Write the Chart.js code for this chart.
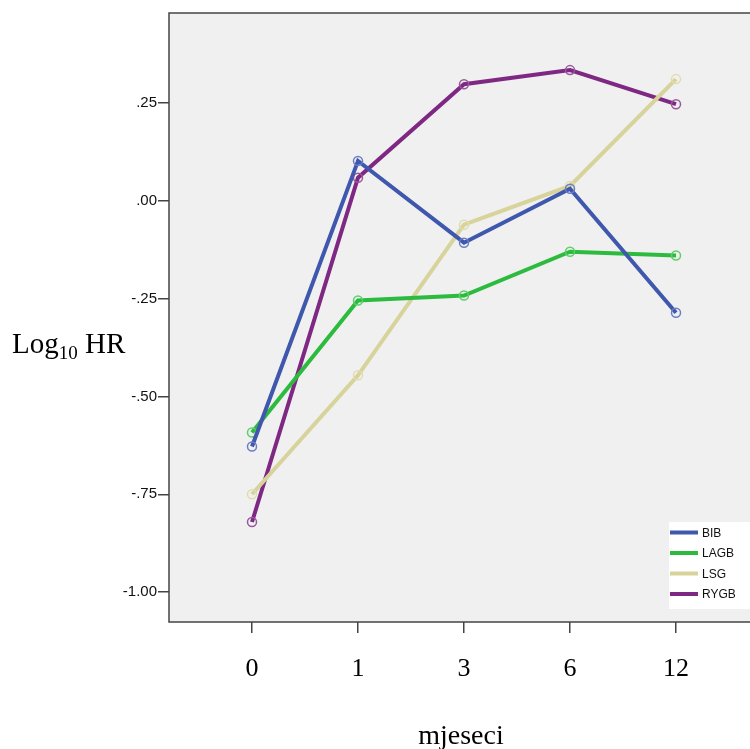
<!DOCTYPE html>
<html>
<head>
<meta charset="utf-8">
<script src="https://cdn.jsdelivr.net/npm/chart.js@4.4.1/dist/chart.umd.min.js"></script>
<style>
html,body{margin:0;padding:0;background:#fff;overflow:hidden;}
#wrap{width:750px;height:749px;overflow:hidden;}
canvas{display:block;}
</style>
</head>
<body>
<div id="wrap"><canvas id="c" width="750" height="749"></canvas></div>
<script>
const categories = ['0', '1', '3', '6', '12'];
const seriesNames = ['BIB', 'LAGB', 'LSG', 'RYGB'];
const BIB  = [-0.628, 0.102, -0.107, 0.031, -0.286];
const LAGB = [-0.592, -0.255, -0.242, -0.130, -0.140];
const LSG  = [-0.750, -0.446, -0.061, 0.038, 0.311];
const RYGB = [-0.821, 0.059, 0.298, 0.334, 0.247];
const yTicks = [-1.00, -0.75, -0.50, -0.25, 0.00, 0.25];

const lineColors = ['#3f57ad', '#2dbb3f', '#d7d39b', '#7e2883'];
const pointColors = ['#6a7ec4', '#5bd068', '#e0dcb0', '#9a579e'];
const allSeries = [BIB, LAGB, LSG, RYGB];

const datasets = allSeries.map((arr, i) => ({
  label: seriesNames[i],
  data: arr.map((v, j) => ({x: j, y: v})),
  borderColor: lineColors[i],
  borderWidth: 4,
  pointRadius: 4.5,
  pointBorderWidth: 1.5,
  pointBorderColor: pointColors[i],
  pointBackgroundColor: 'rgba(0,0,0,0)',
  tension: 0,
  fill: false
}));

function fmt(v) {
  let s = Math.abs(v).toFixed(2);
  if (s.startsWith('0')) s = s.slice(1);
  return (v < -1e-9 ? '-' : '') + s;
}

const SERIF = '"Liberation Serif", "Times New Roman", serif';

const decor = {
  id: 'decor',
  beforeDraw(chart) {
    const {ctx, chartArea: a} = chart;
    ctx.save();
    ctx.fillStyle = '#fff';
    ctx.fillRect(0, 0, chart.width, chart.height);
    ctx.fillStyle = '#f0f0f0';
    ctx.fillRect(a.left, a.top, a.right - a.left, a.bottom - a.top);
    ctx.restore();
  },
  afterDraw(chart) {
    const {ctx, chartArea: a} = chart;
    ctx.save();
    // frame
    ctx.strokeStyle = '#444';
    ctx.lineWidth = 1.5;
    ctx.beginPath();
    ctx.moveTo(a.right + 2, a.top);
    ctx.lineTo(a.left, a.top);
    ctx.lineTo(a.left, a.bottom);
    ctx.lineTo(a.right + 2, a.bottom);
    ctx.stroke();
    // y title
    ctx.fillStyle = '#000';
    ctx.textBaseline = 'alphabetic';
    ctx.textAlign = 'left';
    let x = 12, y = 353;
    ctx.font = '29px ' + SERIF;
    ctx.fillText('Log', x, y);
    x += ctx.measureText('Log').width;
    ctx.font = '19px ' + SERIF;
    ctx.fillText('10', x, y + 6);
    x += ctx.measureText('10').width;
    ctx.font = '29px ' + SERIF;
    ctx.fillText(' HR', x, y);
    // x title
    ctx.textAlign = 'center';
    ctx.font = '28px ' + SERIF;
    ctx.fillText('mjeseci', 461, 744);
    // legend
    const lx = 669, ly = 522, lw = 81, lh = 87;
    ctx.fillStyle = '#fff';
    ctx.fillRect(lx, ly, lw, lh);
    ctx.font = '12px "Liberation Sans", Arial, sans-serif';
    ctx.textAlign = 'left';
    ctx.textBaseline = 'middle';
    chart.data.datasets.forEach((ds, i) => {
      const ry = 532.5 + i * 20.5;
      ctx.strokeStyle = ds.borderColor;
      ctx.lineWidth = 4;
      ctx.beginPath();
      ctx.moveTo(lx + 1, ry);
      ctx.lineTo(lx + 29, ry);
      ctx.stroke();
      ctx.fillStyle = '#111';
      ctx.fillText(ds.label, lx + 33, ry + 1);
    });
    ctx.restore();
  }
};

new Chart(document.getElementById('c'), {
  type: 'line',
  data: {datasets},
  options: {
    responsive: false,
    animation: false,
    devicePixelRatio: 1,
    layout: {autoPadding: false, padding: {left: 0, right: 0, top: 13, bottom: 0}},
    plugins: {legend: {display: false}, tooltip: {enabled: false}},
    scales: {
      x: {
        type: 'linear',
        min: -0.783,
        max: 4.698,
        afterBuildTicks(s) { s.ticks = categories.map((c, i) => ({value: i})); },
        afterFit(s) { s.height = 127; },
        ticks: {
          callback: (v) => categories[v],
          font: {family: SERIF, size: 26},
          color: '#000',
          padding: 21,
          maxRotation: 0,
          autoSkip: false
        },
        grid: {drawOnChartArea: false, drawTicks: true, tickLength: 11, color: '#444', lineWidth: 1.5},
        border: {display: false}
      },
      y: {
        type: 'linear',
        min: -1.0765,
        max: 0.48,
        afterBuildTicks(s) { s.ticks = yTicks.map(v => ({value: v})); },
        afterFit(s) { s.width = 169; },
        ticks: {
          callback: (v) => fmt(v),
          font: {family: '"Liberation Sans", Arial, sans-serif', size: 15},
          color: '#111',
          padding: 1
        },
        grid: {drawOnChartArea: false, drawTicks: true, tickLength: 11, color: '#444', lineWidth: 1.5},
        border: {display: false}
      }
    }
  },
  plugins: [decor]
});
</script>
</body>
</html>
